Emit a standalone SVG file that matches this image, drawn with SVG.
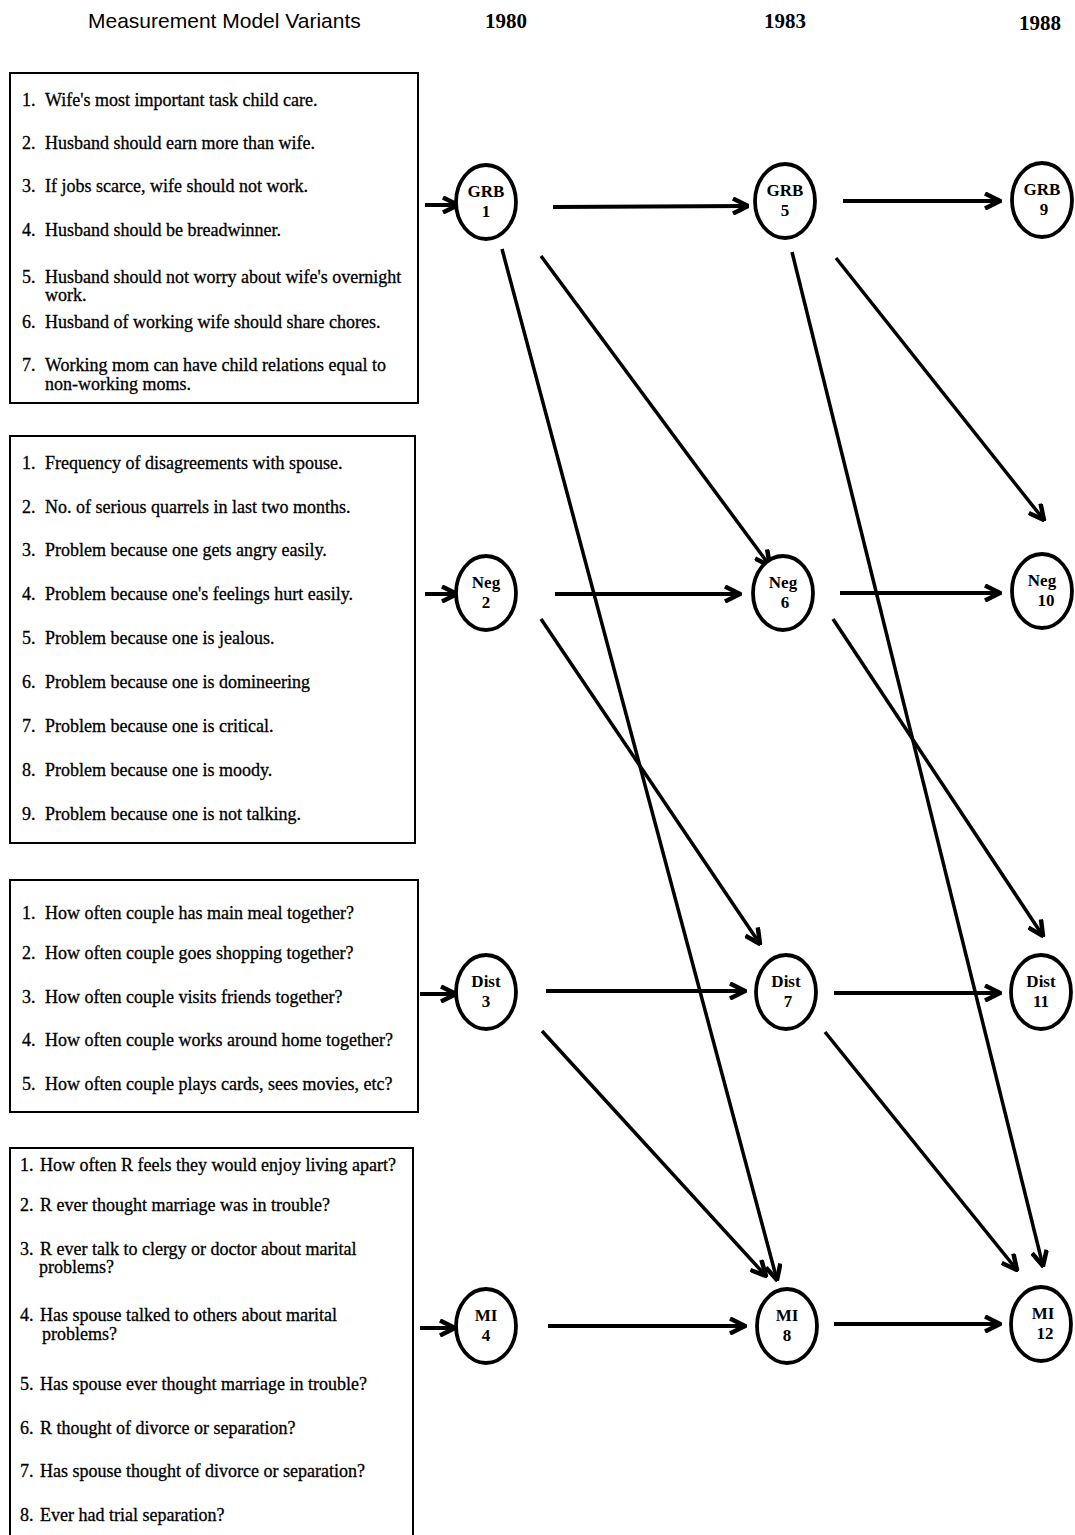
<svg xmlns="http://www.w3.org/2000/svg" width="1075" height="1535" viewBox="0 0 1075 1535">
<defs>
<marker id="ah" viewBox="0 0 12 12" refX="11" refY="6" markerWidth="18" markerHeight="18" markerUnits="userSpaceOnUse" orient="auto">
<path d="M1,1 L11,6 L1,11" fill="none" stroke="#000" stroke-width="3" stroke-linejoin="miter"/>
</marker>
</defs>
<style>
.hdr{font-family:"Liberation Sans",Arial,sans-serif;font-size:21px;fill:#000}
.yr{font-family:"Liberation Serif","Times New Roman",serif;font-size:21px;font-weight:bold;fill:#000}
.box{fill:#fff;stroke:#000;stroke-width:2}
.it{font-family:"Liberation Serif","Times New Roman",serif;font-size:18px;fill:#000;stroke:#000;stroke-width:0.3}
.nd{fill:#fff;stroke:#000;stroke-width:3.8}
.nt{font-family:"Liberation Serif","Times New Roman",serif;font-size:17px;font-weight:bold;fill:#000;text-anchor:middle}
.c{stroke:#000;stroke-width:4;fill:none;marker-end:url(#ah)}
.d{stroke:#000;stroke-width:3.5;fill:none;marker-end:url(#ah)}
</style>
<rect width="1075" height="1535" fill="#fff"/>
<text class="hdr" x="88" y="28">Measurement Model Variants</text>
<text class="yr" x="485" y="28">1980</text>
<text class="yr" x="764" y="28">1983</text>
<text class="yr" x="1019" y="30">1988</text>

<g id="box-grb">
<rect class="box" x="10" y="73" width="408" height="330"/>
<text class="it" x="22" y="106">1.</text><text class="it" x="45" y="106">Wife's most important task child care.</text>
<text class="it" x="22" y="149">2.</text><text class="it" x="45" y="149">Husband should earn more than wife.</text>
<text class="it" x="22" y="192">3.</text><text class="it" x="45" y="192">If jobs scarce, wife should not work.</text>
<text class="it" x="22" y="236">4.</text><text class="it" x="45" y="236">Husband should be breadwinner.</text>
<text class="it" x="22" y="283">5.</text><text class="it" x="45" y="283">Husband should not worry about wife's overnight</text>
<text class="it" x="45" y="301">work.</text>
<text class="it" x="22" y="328">6.</text><text class="it" x="45" y="328">Husband of working wife should share chores.</text>
<text class="it" x="22" y="371">7.</text><text class="it" x="45" y="371">Working mom can have child relations equal to</text>
<text class="it" x="45" y="390">non-working moms.</text>
</g>

<g id="box-neg">
<rect class="box" x="10" y="436" width="405" height="407"/>
<text class="it" x="22" y="469">1.</text><text class="it" x="45" y="469">Frequency of disagreements with spouse.</text>
<text class="it" x="22" y="513">2.</text><text class="it" x="45" y="513">No. of serious quarrels in last two months.</text>
<text class="it" x="22" y="556">3.</text><text class="it" x="45" y="556">Problem because one gets angry easily.</text>
<text class="it" x="22" y="600">4.</text><text class="it" x="45" y="600">Problem because one's feelings hurt easily.</text>
<text class="it" x="22" y="644">5.</text><text class="it" x="45" y="644">Problem because one is jealous.</text>
<text class="it" x="22" y="688">6.</text><text class="it" x="45" y="688">Problem because one is domineering</text>
<text class="it" x="22" y="732">7.</text><text class="it" x="45" y="732">Problem because one is critical.</text>
<text class="it" x="22" y="776">8.</text><text class="it" x="45" y="776">Problem because one is moody.</text>
<text class="it" x="22" y="820">9.</text><text class="it" x="45" y="820">Problem because one is not talking.</text>
</g>

<g id="box-dist">
<rect class="box" x="10" y="880" width="408" height="232"/>
<text class="it" x="22" y="919">1.</text><text class="it" x="45" y="919">How often couple has main meal together?</text>
<text class="it" x="22" y="959">2.</text><text class="it" x="45" y="959">How often couple goes shopping together?</text>
<text class="it" x="22" y="1003">3.</text><text class="it" x="45" y="1003">How often couple visits friends together?</text>
<text class="it" x="22" y="1046">4.</text><text class="it" x="45" y="1046">How often couple works around home together?</text>
<text class="it" x="22" y="1090">5.</text><text class="it" x="45" y="1090">How often couple plays cards, sees movies, etc?</text>
</g>

<g id="box-mi">
<rect class="box" x="10" y="1148" width="403" height="400"/>
<text class="it" x="20" y="1171">1.</text><text class="it" x="40" y="1171">How often R feels they would enjoy living apart?</text>
<text class="it" x="20" y="1211">2.</text><text class="it" x="40" y="1211">R ever thought marriage was in trouble?</text>
<text class="it" x="20" y="1255">3.</text><text class="it" x="40" y="1255">R ever talk to clergy or doctor about marital</text>
<text class="it" x="39" y="1273">problems?</text>
<text class="it" x="20" y="1321">4.</text><text class="it" x="40" y="1321">Has spouse talked to others about marital</text>
<text class="it" x="42" y="1340">problems?</text>
<text class="it" x="20" y="1390">5.</text><text class="it" x="40" y="1390">Has spouse ever thought marriage in trouble?</text>
<text class="it" x="20" y="1434">6.</text><text class="it" x="40" y="1434">R thought of divorce or separation?</text>
<text class="it" x="20" y="1477">7.</text><text class="it" x="40" y="1477">Has spouse thought of divorce or separation?</text>
<text class="it" x="20" y="1521">8.</text><text class="it" x="40" y="1521">Ever had trial separation?</text>
</g>

<g id="connectors">
<line class="c" x1="425" y1="205" x2="458" y2="205"/>
<line class="c" x1="425" y1="594" x2="457" y2="594"/>
<line class="c" x1="420" y1="994" x2="456" y2="994"/>
<line class="c" x1="420" y1="1328" x2="455" y2="1328"/>
<line class="c" x1="553" y1="207" x2="748" y2="206"/>
<line class="c" x1="843" y1="201" x2="1000" y2="201"/>
<line class="c" x1="555" y1="594" x2="740" y2="594"/>
<line class="c" x1="840" y1="593" x2="1000" y2="593"/>
<line class="c" x1="546" y1="991" x2="745" y2="991"/>
<line class="c" x1="834" y1="993" x2="1000" y2="993"/>
<line class="c" x1="548" y1="1326" x2="745" y2="1326"/>
<line class="c" x1="834" y1="1324" x2="1000" y2="1324"/>
<line class="d" x1="541" y1="256" x2="770" y2="566"/>
<line class="d" x1="502" y1="249" x2="777" y2="1280"/>
<line class="d" x1="836" y1="258" x2="1044" y2="520"/>
<line class="d" x1="792" y1="252" x2="1043" y2="1266"/>
<line class="d" x1="541" y1="619" x2="760" y2="944"/>
<line class="d" x1="833" y1="619" x2="1043" y2="936"/>
<line class="d" x1="542" y1="1031" x2="766" y2="1276"/>
<line class="d" x1="825" y1="1032" x2="1017" y2="1270"/>
</g>

<g id="n-grb1"><ellipse class="nd" cx="486" cy="202" rx="30" ry="37"/><text class="nt" x="486" y="197">GRB</text><text class="nt" x="486" y="217">1</text></g>
<g id="n-grb5"><ellipse class="nd" cx="785" cy="201" rx="30" ry="37"/><text class="nt" x="785" y="196">GRB</text><text class="nt" x="785" y="216">5</text></g>
<g id="n-grb9"><ellipse class="nd" cx="1042" cy="200" rx="30" ry="37"/><text class="nt" x="1042" y="195">GRB</text><text class="nt" x="1044" y="215">9</text></g>
<g id="n-neg2"><ellipse class="nd" cx="486" cy="593" rx="30" ry="37"/><text class="nt" x="486" y="588">Neg</text><text class="nt" x="486" y="608">2</text></g>
<g id="n-neg6"><ellipse class="nd" cx="783" cy="593" rx="30" ry="37"/><text class="nt" x="783" y="588">Neg</text><text class="nt" x="785" y="608">6</text></g>
<g id="n-neg10"><ellipse class="nd" cx="1042" cy="591" rx="30" ry="37"/><text class="nt" x="1042" y="586">Neg</text><text class="nt" x="1046" y="606">10</text></g>
<g id="n-dist3"><ellipse class="nd" cx="486" cy="992" rx="30" ry="37"/><text class="nt" x="486" y="987">Dist</text><text class="nt" x="486" y="1007">3</text></g>
<g id="n-dist7"><ellipse class="nd" cx="786" cy="992" rx="30" ry="37"/><text class="nt" x="786" y="987">Dist</text><text class="nt" x="788" y="1007">7</text></g>
<g id="n-dist11"><ellipse class="nd" cx="1041" cy="992" rx="30" ry="37"/><text class="nt" x="1041" y="987">Dist</text><text class="nt" x="1041" y="1007">11</text></g>
<g id="n-mi4"><ellipse class="nd" cx="486" cy="1326" rx="30" ry="37"/><text class="nt" x="486" y="1321">MI</text><text class="nt" x="486" y="1341">4</text></g>
<g id="n-mi8"><ellipse class="nd" cx="787" cy="1326" rx="30" ry="37"/><text class="nt" x="787" y="1321">MI</text><text class="nt" x="787" y="1341">8</text></g>
<g id="n-mi12"><ellipse class="nd" cx="1041" cy="1324" rx="30" ry="37"/><text class="nt" x="1043" y="1319">MI</text><text class="nt" x="1045" y="1339">12</text></g>
</svg>
